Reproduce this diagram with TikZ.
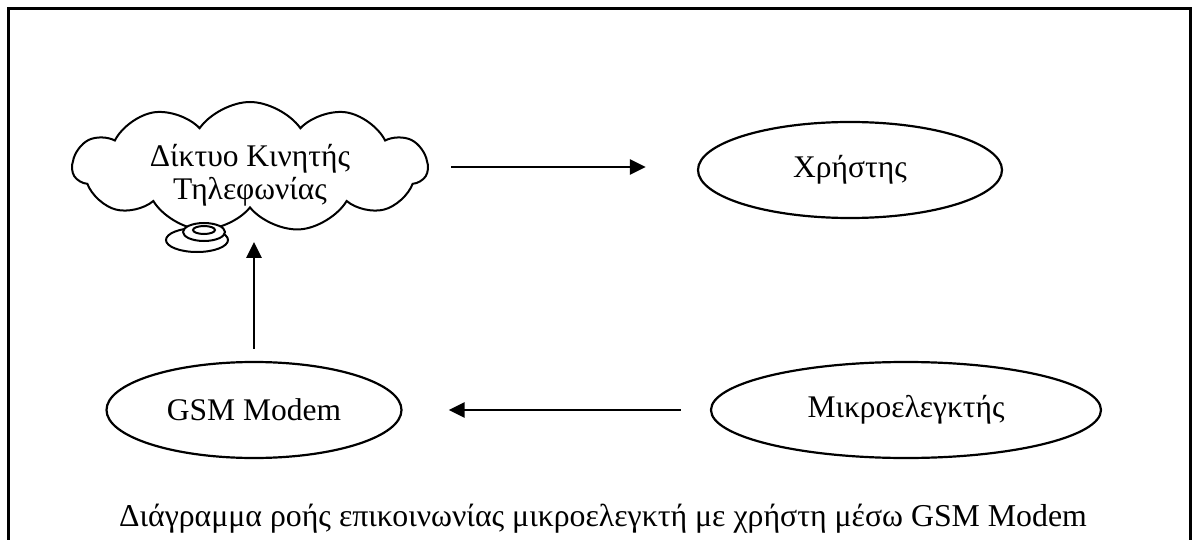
\documentclass[tikz,border=0pt]{standalone}
\usepackage{fontspec}
\setmainfont{Liberation Serif}
\usetikzlibrary{shapes.geometric,shapes.symbols,arrows.meta}
\begin{document}
\begin{tikzpicture}[x=1pt,y=-1pt,
  txt/.style={font=\fontsize{31.5}{38}\selectfont},
  oval/.style={ellipse,draw,line width=2.2pt,minimum height=96pt,inner sep=0pt,txt},
  arr/.style={line width=2.8pt,-{Triangle[length=16pt,width=15pt]}},
  disk/.style={draw,fill=white,line width=2pt}]
\useasboundingbox (0,0) rectangle (1202,540);
\clip (0,0) rectangle (1202,540);
% outer frame, its lower edge runs past the page
\draw[line width=3pt] (8,9) rectangle (1190,580);

% mobile network cloud; the text box claims no size so the outline keeps its own
\node[cloud,draw,line width=2pt,cloud puffs=11,cloud puff arc=110,
      minimum width=355pt,minimum height=130pt,inner sep=0pt,aspect=2.6,
      txt] (net) at (250,167)
  {\raisebox{-33pt}[0pt][0pt]{\makebox[0pt]{\shortstack{Δίκτυο Κινητής\\[2pt]Τηλεφωνίας}}}};
% small dish under the cloud
\path[disk] (197,240) ellipse[x radius=31,y radius=12];
\path[disk] (204,232) ellipse[x radius=21,y radius=9];
\path[disk] (204,230) ellipse[x radius=11,y radius=4];

\node[oval,minimum width=304pt] (user) at (850,170) {Χρήστης};
\node[oval,minimum width=295pt] (gsm) at (254,410) {GSM Modem};
\node[oval,minimum width=390pt] (mcu) at (906,410) {Μικροελεγκτής};

\draw[arr,shorten <=22pt,shorten >=51pt] (net.east) -- (net.east -| user.west);
\draw[arr,shorten <=12pt,shorten >=33pt] (gsm.north) -- (gsm.north |- net.south);
\draw[arr,shorten <=29pt,shorten >=46pt] (mcu.west) -- (gsm.east);

\node[font=\fontsize{31.8}{38}\selectfont] (caption) at (603,519)
  {Διάγραμμα ροής επικοινωνίας μικροελεγκτή με χρήστη μέσω GSM Modem};
\end{tikzpicture}
\end{document}
